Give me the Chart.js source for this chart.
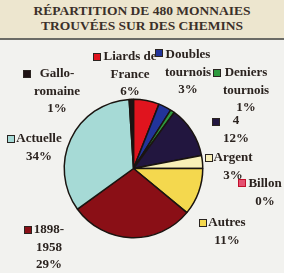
<!DOCTYPE html>
<html>
<head>
<meta charset="utf-8">
<script src="https://cdn.jsdelivr.net/npm/chart.js@4/dist/chart.umd.min.js"></script>
<style>
  html, body { margin: 0; padding: 0; }
  body { width: 284px; height: 273px; position: relative; overflow: hidden; background: #f2f2ef; }
  #head {
    position: absolute; left: 0; top: 0; width: 284px; height: 40px; box-sizing: border-box;
    padding-top: 2.5px; background: #ede6cf; border-bottom: 2px solid #6b6b66;
    font: bold 13.5px/15px "Liberation Serif", serif; color: #3b302a; text-align: center;
  }
  #wrap { position: absolute; left: 0; top: 0; width: 284px; height: 273px; }
</style>
</head>
<body>
<div id="head">RÉPARTITION DE 480 MONNAIES<br>TROUVÉES SUR DES CHEMINS</div>
<div id="wrap"><canvas id="coins"></canvas></div>
<script>
const categories = ['Liards de\nFrance', 'Doubles\ntournois', 'Deniers\ntournois', '4', 'Argent', 'Billon', 'Autres', '1898-\n1958', 'Actuelle', 'Gallo-\nromaine'];
const shares = [6, 3, 1, 12, 3, 0, 11, 29, 34, 1];
const sliceColors = ['#e0141e', '#22349a', '#2e9a3e', '#22163f', '#f8f0b8', '#e55070', '#f4d84e', '#8a0f16', '#a6dad6', '#1e1214'];

// where each label block sits: cx = centre of the text lines, y = first line, sx/sy = swatch
const labelSpots = [
  { cx: 130, y: 57, sx: 93, sy: 57 },
  { cx: 188, y: 55, sx: 155, sy: 53 },
  { cx: 246, y: 73, sx: 213, sy: 73 },
  { cx: 236, y: 121, sx: 212, sy: 122 },
  { cx: 233, y: 158, sx: 205, sy: 158 },
  { cx: 265, y: 184, sx: 238, sy: 183 },
  { cx: 227, y: 223, sx: 199, sy: 223 },
  { cx: 49, y: 230, sx: 24, sy: 230 },
  { cx: 39, y: 139, sx: 7, sy: 139 },
  { cx: 57, y: 74, sx: 23, sy: 74 }
];

const labelPlugin = {
  id: 'sliceLabels',
  afterDraw(chart) {
    const ctx = chart.ctx;
    ctx.save();
    ctx.font = 'bold 13px "Liberation Serif", serif';
    ctx.textAlign = 'center';
    ctx.textBaseline = 'middle';
    ctx.lineWidth = 1;
    categories.forEach((name, i) => {
      const spot = labelSpots[i];
      ctx.fillStyle = sliceColors[i];
      ctx.fillRect(spot.sx, spot.sy - 4, 8, 8);
      ctx.strokeStyle = i === 5 ? '#c0102a' : '#2a2420';
      ctx.strokeRect(spot.sx + 0.5, spot.sy - 3.5, 7, 7);
      ctx.fillStyle = '#2b231f';
      const lines = name.split('\n').concat(shares[i] + '%');
      lines.forEach((line, k) => ctx.fillText(line, spot.cx, spot.y + k * 17.5));
    });
    ctx.restore();
  }
};

new Chart(document.getElementById('coins'), {
  type: 'pie',
  data: {
    labels: categories,
    datasets: [{
      data: shares,
      backgroundColor: sliceColors,
      borderColor: '#1a1410',
      borderWidth: 1.5
    }]
  },
  options: {
    responsive: true,
    maintainAspectRatio: false,
    animation: false,
    layout: { padding: { left: 63.5, top: 98.5, right: 80.5, bottom: 34.5 } },
    plugins: {
      legend: { display: false },
      tooltip: { enabled: false }
    }
  },
  plugins: [labelPlugin]
});
</script>
</body>
</html>
